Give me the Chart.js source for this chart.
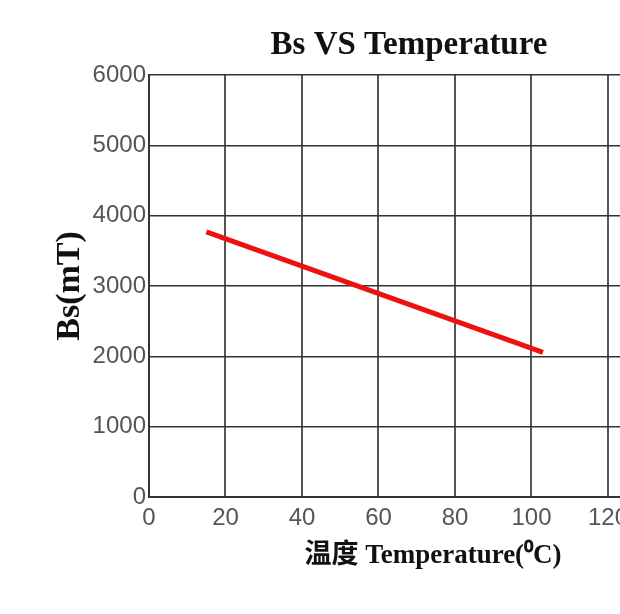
<!DOCTYPE html>
<html>
<head>
<meta charset="utf-8">
<script src="https://cdn.jsdelivr.net/npm/chart.js@4"></script>
<style>
  html, body { margin: 0; padding: 0; background: #fff; }
  #wrap { width: 620px; height: 614px; overflow: hidden; position: relative; }
  canvas { display: block; }
</style>
</head>
<body>
<div id="wrap"><canvas id="c" width="768" height="614" style="width:768px;height:614px"></canvas></div>
<script>
const chartTitle = "Bs VS Temperature";
const xTitle = "温度 Temperature(⁰C)";
const yTitle = "Bs(mT)";
const temperature = [15, 103];
const bsValues = [3770, 2055];
const xMin = 0, xMax = 148.5, xStep = 20;
const yMin = 0, yMax = 6000, yStep = 1000;

const points = temperature.map((t, i) => ({ x: t, y: bsValues[i] }));
const tickFont = { family: "'Liberation Sans', Arial, sans-serif", size: 24 };
const serif = "'Liberation Serif', 'Times New Roman', 'Noto Sans CJK SC', serif";

new Chart(document.getElementById('c'), {
  type: 'line',
  data: {
    datasets: [{
      data: points,
      borderColor: '#ee1111',
      borderWidth: 5,
      pointRadius: 0,
      fill: false,
      tension: 0,
      yAxisID: 'y'
    }]
  },
  options: {
    responsive: false,
    animation: false,
    layout: { padding: { left: 50, right: 0, top: 0, bottom: 42 } },
    plugins: {
      legend: { display: false },
      tooltip: { enabled: false },
      title: {
        display: true,
        text: chartTitle,
        color: '#111',
        font: { family: serif, size: 33, weight: 'bold' },
        padding: { top: 26, bottom: 9.4 }
      }
    },
    scales: {
      x: {
        type: 'linear',
        min: xMin, max: xMax,
        ticks: {
          stepSize: xStep,
          color: '#555',
          padding: 7,
          maxRotation: 0,
          font: tickFont,
          callback: v => String(v)
        },
        grid: { color: '#555', lineWidth: 2, drawTicks: false },
        border: { color: '#333', width: 2 },
        title: {
          display: true,
          text: xTitle,
          color: '#111',
          font: { family: serif, size: 27, weight: 'bold' },
          padding: { top: 0, bottom: 0 }
        },
        afterFit(scale) { scale.height = 75; }
      },
      y: {
        type: 'linear',
        position: 'left',
        min: yMin, max: yMax,
        ticks: {
          stepSize: yStep,
          color: '#555',
          padding: 3,
          font: tickFont,
          callback: v => String(v)
        },
        grid: { color: '#333', lineWidth: 1.5, drawTicks: false },
        border: { color: '#333', width: 2 },
        title: {
          display: true,
          text: yTitle,
          color: '#111',
          font: { family: serif, size: 34, weight: 'bold' },
          padding: { top: 0, bottom: 0 }
        },
        afterFit(scale) { scale.width = 99; }
      },
      yRight: {
        type: 'linear',
        position: 'right',
        display: true,
        min: yMin, max: yMax,
        grid: { display: false, drawTicks: false },
        border: { display: false },
        ticks: { display: false },
        afterFit(scale) { scale.width = 51; }
      }
    }
  },
  plugins: [{
    id: 'bg',
    beforeDraw(chart) {
      const ctx = chart.ctx;
      ctx.save();
      ctx.fillStyle = '#fff';
      ctx.fillRect(0, 0, chart.width, chart.height);
      ctx.restore();
    }
  }]
});
</script>
</body>
</html>
